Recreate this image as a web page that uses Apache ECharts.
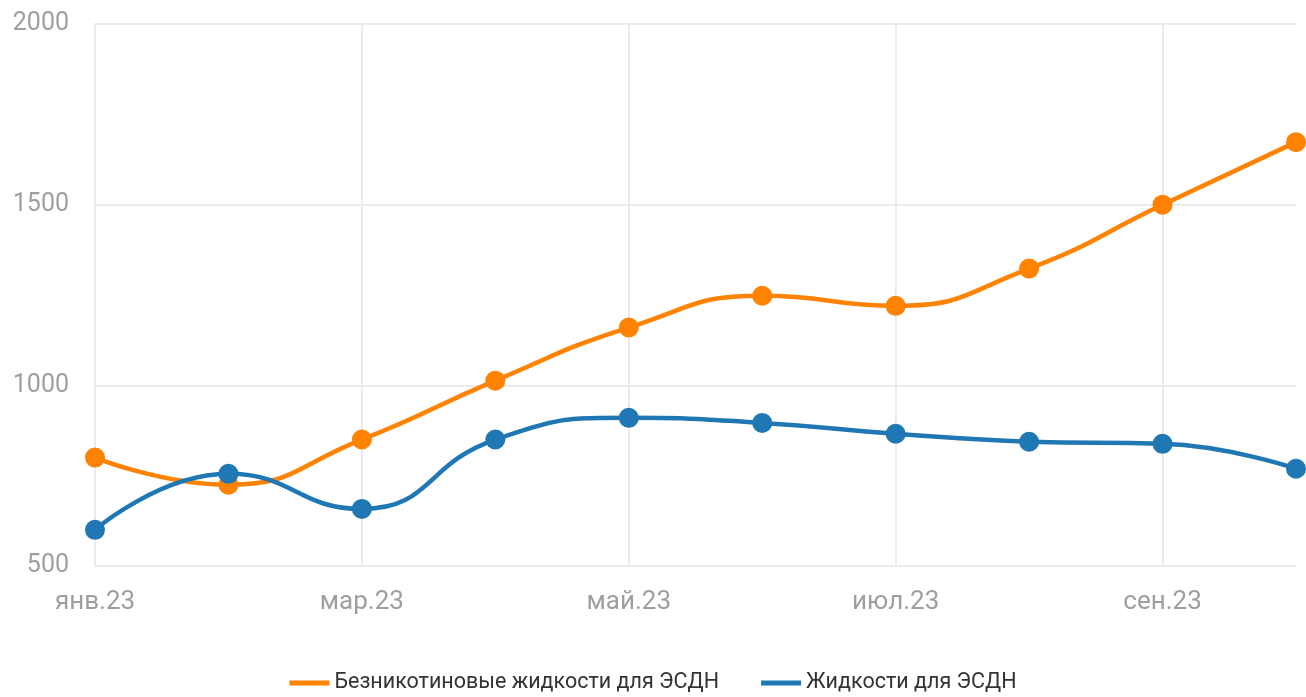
<!DOCTYPE html>
<html>
<head>
<meta charset="utf-8">
<script src="https://cdn.jsdelivr.net/npm/echarts@6/dist/echarts.min.js"></script>
<style>
  html, body { margin: 0; padding: 0; background: #fff; }
  #main { width: 1306px; height: 697px; }
</style>
</head>
<body>
<div id="main"></div>
<script>
var months = ['янв.23', 'фев.23', 'мар.23', 'апр.23', 'май.23', 'июн.23', 'июл.23', 'авг.23', 'сен.23', 'окт.23'];
var nicotineFree = [800, 725, 850, 1013, 1160, 1248, 1220, 1323, 1500, 1673];
var liquids = [600, 755, 658, 850, 910, 896, 866, 844, 838, 769];
var seriesNames = ['Безникотиновые жидкости для ЭСДН', 'Жидкости для ЭСДН'];

function drawChart() {
    var myChart = echarts.init(document.getElementById('main'));
    var gridColor = '#ebebeb';
    var labelColor = '#9e9e9e';

    var option = {
        animation: false,
        textStyle: { fontFamily: 'Roboto' },
        color: ['#ff8200', '#1f77b4'],
        grid: { left: 95, right: 10, top: 24, bottom: 131 },
        legend: {
            bottom: -2,
            left: 'center',
            itemWidth: 40,
            itemHeight: 5,
            itemGap: 42,
            icon: 'rect',
            textStyle: { color: '#333', fontSize: 21.5, fontFamily: 'Roboto' },
            data: seriesNames
        },
        xAxis: {
            type: 'category',
            boundaryGap: false,
            data: months,
            axisLine: { lineStyle: { color: gridColor, width: 2 } },
            axisTick: { show: false },
            axisLabel: { interval: 1, color: labelColor, fontSize: 26, margin: 23 },
            splitLine: { show: true, interval: 1, lineStyle: { color: gridColor, width: 2 } }
        },
        yAxis: {
            type: 'value',
            min: 500,
            max: 2000,
            interval: 500,
            axisLine: { show: true, lineStyle: { color: gridColor, width: 2 } },
            axisTick: { show: false },
            axisLabel: {
                color: labelColor,
                fontSize: 25,
                margin: 26,
                formatter: function (v) { return String(v); }
            },
            splitLine: { lineStyle: { color: gridColor, width: 2 } }
        },
        series: [
            {
                name: seriesNames[0],
                type: 'line',
                smooth: true,
                data: nicotineFree,
                symbol: 'circle',
                symbolSize: 20,
                lineStyle: { width: 4.5 }
            },
            {
                name: seriesNames[1],
                type: 'line',
                smooth: true,
                data: liquids,
                symbol: 'circle',
                symbolSize: 20,
                lineStyle: { width: 4.5 }
            }
        ]
    };

    myChart.setOption(option);
}

document.addEventListener('DOMContentLoaded', function () {
    drawChart();
});
</script>
</body>
</html>
